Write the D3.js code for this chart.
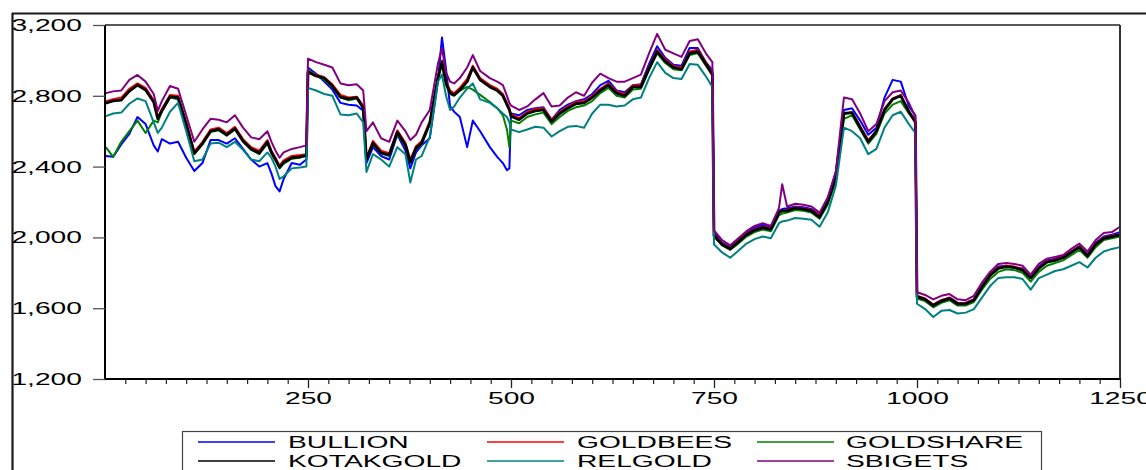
<!DOCTYPE html>
<html>
<head>
<meta charset="utf-8">
<script src="https://cdn.jsdelivr.net/npm/d3@7"></script>
<style>
  html, body { margin: 0; padding: 0; background: #fff; }
  svg { display: block; }
  text { font-family: "Liberation Sans", Arial, Helvetica, sans-serif; fill: #000; }
</style>
</head>
<body>
<svg id="chart" width="1146" height="470"></svg>
<script>
// Trading day index shared by every series
const days = [
  1,10,20,30,40,50,60,65,70,80,90,100,110,120,130,140,150,160,170,180,190,200,205,210,215,220,230,240,248,
  250,260,270,280,290,300,310,318,
  322,330,340,350,360,370,376,383,390,400,410,415,420,425,430,437,446,453,462,474,483,490,495,498,
  500,510,520,530,540,550,560,570,580,590,600,610,620,630,640,650,660,670,680,690,700,710,720,730,740,748,
  750,760,770,780,790,800,810,820,830,834,840,850,860,870,880,890,900,910,920,930,940,950,960,970,980,990,998,
  1000,1010,1020,1030,1040,1050,1060,1070,1080,1090,1100,1110,1120,1130,1140,1150,1160,1170,1180,1190,1200,1210,1220,1230,1240,1250
];

const BULLION = [
  2460,2455,2525,2585,2680,2640,2520,2485,2555,2530,2540,2450,2375,2420,2550,2550,2530,2560,2500,2440,2400,2420,2360,2290,2260,2330,2420,2410,2440,
  2960,2925,2880,2835,2760,2750,2745,2715,
  2420,2510,2460,2440,2580,2490,2390,2480,2520,2560,2880,3130,2950,2740,2710,2680,2510,2660,2600,2510,2455,2420,2380,2390,
  2700,2690,2720,2730,2735,2665,2720,2750,2770,2780,2810,2860,2885,2830,2820,2860,2865,2980,3080,3015,2975,2970,3070,3070,2990,2945,
  2025,1970,1945,1985,2025,2055,2070,2055,2150,2160,2165,2175,2170,2160,2130,2215,2370,2720,2730,2660,2580,2620,2790,2890,2880,2740,2690,
  1670,1650,1620,1645,1660,1630,1630,1650,1725,1790,1835,1840,1830,1825,1775,1835,1870,1880,1895,1920,1950,1905,1970,2005,2015,2030
];

const GOLDBEES = [
  2770,2780,2790,2840,2870,2845,2775,2680,2725,2805,2800,2650,2485,2540,2610,2620,2590,2625,2555,2510,2490,2550,2490,2450,2405,2435,2460,2465,2470,
  2945,2920,2905,2865,2805,2790,2795,2745,
  2450,2545,2490,2475,2605,2535,2440,2515,2545,2655,2910,3000,2885,2830,2815,2845,2895,2970,2900,2860,2840,2810,2760,2730,
  2695,2675,2710,2725,2730,2665,2710,2740,2765,2770,2800,2840,2870,2825,2810,2860,2860,2965,3060,3005,2970,2960,3050,3060,2990,2930,
  2015,1965,1940,1980,2020,2045,2060,2050,2145,2150,2155,2170,2165,2155,2125,2205,2345,2700,2705,2630,2550,2600,2725,2785,2805,2715,2660,
  1670,1655,1620,1645,1660,1630,1630,1650,1725,1790,1830,1840,1835,1820,1775,1830,1865,1875,1890,1920,1950,1900,1965,2000,2010,2020
];

const GOLDSHARE = [
  2510,2455,2540,2600,2660,2590,2660,2650,2710,2790,2780,2635,2470,2525,2595,2605,2575,2610,2540,2495,2470,2530,2475,2435,2390,2415,2445,2450,2470,
  2945,2915,2890,2850,2790,2775,2785,2735,
  2445,2525,2475,2460,2585,2515,2420,2500,2525,2640,2900,2980,2860,2810,2800,2830,2850,2835,2805,2765,2730,2690,2610,2510,
  2660,2645,2680,2695,2705,2640,2680,2715,2735,2745,2770,2815,2845,2800,2790,2835,2840,2945,3040,2985,2950,2945,3030,3040,2970,2915,
  2005,1955,1930,1965,2005,2030,2045,2035,2125,2135,2140,2155,2150,2140,2105,2185,2320,2670,2690,2610,2530,2585,2700,2750,2770,2700,2660,
  1655,1640,1605,1630,1645,1615,1615,1635,1705,1765,1805,1820,1815,1800,1750,1805,1840,1855,1870,1900,1930,1885,1945,1985,1995,2005
];

const KOTAKGOLD = [
  2759,2771,2776,2827,2861,2833,2765,2670,2715,2795,2790,2640,2475,2530,2600,2610,2580,2615,2545,2500,2477,2540,2480,2440,2395,2425,2450,2455,2462,
  2935,2912,2900,2855,2793,2782,2790,2731,
  2440,2533,2477,2466,2595,2522,2426,2505,2533,2646,2900,2991,2872,2816,2805,2833,2880,2960,2890,2850,2830,2800,2750,2720,
  2685,2665,2700,2715,2720,2655,2700,2730,2755,2760,2790,2830,2860,2815,2800,2850,2850,2955,3050,2995,2960,2950,3040,3050,2980,2920,
  2010,1960,1935,1975,2015,2040,2055,2045,2140,2150,2150,2165,2160,2150,2115,2200,2340,2700,2705,2620,2540,2600,2720,2780,2800,2710,2650,
  1665,1650,1615,1640,1655,1625,1625,1645,1720,1785,1825,1835,1830,1815,1770,1825,1860,1870,1885,1915,1945,1895,1960,1995,2005,2015
];

const RELGOLD = [
  2685,2700,2705,2755,2785,2770,2650,2590,2620,2710,2760,2600,2430,2440,2530,2535,2510,2540,2495,2440,2430,2480,2450,2400,2330,2345,2390,2395,2400,
  2845,2830,2810,2800,2695,2690,2700,2650,
  2370,2470,2440,2400,2510,2470,2310,2440,2460,2570,2880,2920,2800,2720,2740,2790,2840,2870,2780,2760,2730,2700,2680,2650,
  2610,2595,2610,2625,2620,2570,2600,2625,2630,2620,2700,2750,2750,2740,2745,2780,2790,2900,2990,2930,2900,2895,2980,2975,2910,2850,
  1960,1915,1885,1925,1965,1990,2005,1995,2080,2090,2095,2110,2105,2100,2060,2140,2290,2620,2600,2560,2470,2500,2620,2690,2710,2640,2590,
  1625,1595,1550,1585,1590,1570,1575,1595,1660,1725,1770,1775,1775,1765,1705,1770,1790,1810,1820,1840,1860,1830,1885,1920,1935,1945
];

const SBIGETS = [
  2815,2825,2830,2890,2918,2880,2810,2715,2770,2855,2840,2690,2540,2610,2670,2665,2650,2690,2620,2565,2555,2600,2540,2490,2450,2480,2500,2510,2520,
  3010,2990,2975,2960,2870,2860,2865,2830,
  2600,2650,2560,2540,2660,2600,2550,2580,2650,2720,2980,3070,2930,2880,2870,2900,2960,3030,2940,2900,2880,2860,2800,2760,
  2745,2720,2740,2780,2815,2740,2745,2790,2820,2800,2875,2925,2900,2880,2880,2900,2920,3040,3150,3060,3040,3020,3110,3120,3040,2990,
  2040,1985,1955,1995,2035,2065,2080,2065,2165,2300,2175,2190,2185,2175,2140,2225,2370,2790,2780,2700,2600,2640,2770,2820,2830,2760,2680,
  1690,1675,1650,1670,1680,1650,1645,1670,1745,1805,1850,1855,1850,1840,1790,1850,1880,1890,1900,1935,1965,1920,1985,2025,2030,2060
];

const seriesNames  = ["BULLION", "GOLDBEES", "GOLDSHARE", "KOTAKGOLD", "RELGOLD", "SBIGETS"];
const seriesValues = [BULLION, GOLDBEES, GOLDSHARE, KOTAKGOLD, RELGOLD, SBIGETS];
const seriesColors = ["#0000ff", "#ff0000", "#008000", "#000000", "#008080", "#800080"];

const yTickValues = [1200, 1600, 2000, 2400, 2800, 3200];
const xTickValues = [250, 500, 750, 1000, 1250];

// ---- layout ----
const TEXT_SX = 1.66;      // labels are drawn horizontally widened
const FONT_SIZE = 17;

const svg = d3.select("#chart");
const x = d3.scaleLinear().domain([0, 1250]).range([105, 1120]);
const y = d3.scaleLinear().domain([1200, 3200]).range([379, 25]);

const [x0, x1] = x.range();
const [yb, yt] = y.range();

// outer frame (top and left rules)
svg.append("line").attr("x1", 12).attr("x2", 1146).attr("y1", 13.5).attr("y2", 13.5)
  .attr("stroke", "#1a1a1a").attr("stroke-width", 2.2);
svg.append("line").attr("x1", 12.5).attr("x2", 12.5).attr("y1", 13).attr("y2", 470)
  .attr("stroke", "#1a1a1a").attr("stroke-width", 2.2);

// series lines
const line = d3.line()
  .x((d, i) => x(days[i]))
  .y(d => y(d));

const plot = svg.append("g");
seriesValues.forEach((vals, k) => {
  plot.append("path")
    .datum(vals)
    .attr("fill", "none")
    .attr("stroke", seriesColors[k])
    .attr("stroke-width", seriesNames[k] === "KOTAKGOLD" ? 2.8 : 2.0)
    .attr("stroke-linejoin", "round")
    .attr("d", line);
});

// plot border
svg.append("line").attr("x1", x0).attr("x2", x1).attr("y1", yt).attr("y2", yt)
  .attr("stroke", "#222").attr("stroke-width", 1.4);
svg.append("line").attr("x1", x1).attr("x2", x1).attr("y1", yt).attr("y2", yb)
  .attr("stroke", "#333").attr("stroke-width", 2);
svg.append("line").attr("x1", x0).attr("x2", x0).attr("y1", yt).attr("y2", yb + 1)
  .attr("stroke", "#000").attr("stroke-width", 2);
svg.append("line").attr("x1", x0 - 1).attr("x2", x1 + 1).attr("y1", yb).attr("y2", yb)
  .attr("stroke", "#000").attr("stroke-width", 2);

// y axis
const gy = svg.append("g")
  .attr("transform", `translate(${x0},0)`)
  .call(d3.axisLeft(y).tickValues(yTickValues).tickSize(12).tickFormat(d3.format(",")));
gy.select(".domain").remove();
gy.attr("font-size", FONT_SIZE).attr("font-family", null);
gy.selectAll(".tick line").attr("stroke", "#555").attr("stroke-width", 1.3);
gy.selectAll(".tick text")
  .attr("x", null)
  .attr("dy", "0.32em")
  .attr("fill", "#000")
  .attr("transform", `translate(-23,0) scale(${TEXT_SX},1)`);

// x axis: minor ticks every 25 days, major ticks with labels
const minorTicks = d3.range(25, 1250, 25).filter(v => !xTickValues.includes(v));
const gxm = svg.append("g")
  .attr("transform", `translate(0,${yb})`)
  .call(d3.axisBottom(x).tickValues(minorTicks).tickSize(5).tickFormat(""));
gxm.select(".domain").remove();
gxm.selectAll(".tick line").attr("stroke", "#222").attr("stroke-width", 1.2);

const gx = svg.append("g")
  .attr("transform", `translate(0,${yb})`)
  .call(d3.axisBottom(x).tickValues(xTickValues).tickSize(9).tickFormat(d3.format("d")));
gx.select(".domain").remove();
gx.attr("font-size", FONT_SIZE).attr("font-family", null);
gx.selectAll(".tick line").attr("stroke", "#222").attr("stroke-width", 1.3);
gx.selectAll(".tick text")
  .attr("y", null)
  .attr("dy", null)
  .attr("fill", "#000")
  .attr("transform", `translate(0,25) scale(${TEXT_SX},1)`);

// legend
const legend = svg.append("g");
legend.append("rect")
  .attr("x", 182.5).attr("y", 431.5).attr("width", 859).attr("height", 60)
  .attr("fill", "none").attr("stroke", "#444").attr("stroke-width", 1.2);

const legendLineX = [198, 487, 757];
const legendTextX = [288, 577, 846];
const legendRowY  = [442, 461];
seriesNames.forEach((name, k) => {
  const col = k % 3, row = Math.floor(k / 3);
  const ly = legendRowY[row];
  legend.append("line")
    .attr("x1", legendLineX[col]).attr("x2", legendLineX[col] + 77)
    .attr("y1", ly).attr("y2", ly)
    .attr("stroke", seriesColors[k]).attr("stroke-width", 1.4);
  legend.append("text")
    .attr("transform", `translate(${legendTextX[col]},${ly + 6}) scale(${TEXT_SX},1)`)
    .attr("font-size", FONT_SIZE)
    .text(name);
});
</script>
</body>
</html>
